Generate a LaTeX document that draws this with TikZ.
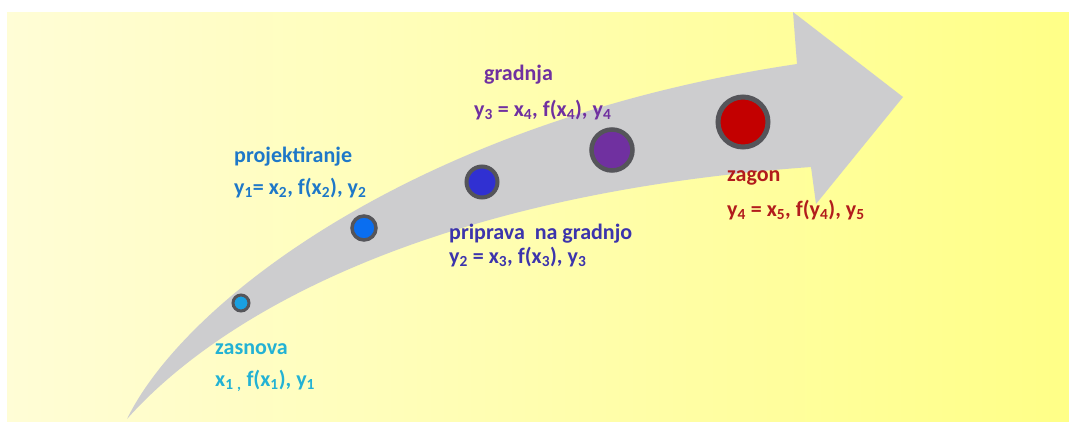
\documentclass[tikz,border=0pt]{standalone}
\usepackage{fontspec}
\setmainfont{Carlito}
\definecolor{bgL}{RGB}{255,253,214}
\definecolor{bgR}{RGB}{255,255,135}
\definecolor{arrowgray}{RGB}{205,205,207}
\definecolor{ringgray}{RGB}{85,85,90}
\definecolor{cZas}{RGB}{35,178,212}
\definecolor{fZas}{RGB}{25,160,225}
\definecolor{cPro}{RGB}{30,120,200}
\definecolor{fPro}{RGB}{10,110,240}
\definecolor{cPri}{RGB}{60,52,172}
\definecolor{fPri}{RGB}{48,48,210}
\definecolor{cGra}{RGB}{112,48,160}
\definecolor{cZag}{RGB}{178,28,28}
\definecolor{fZag}{RGB}{195,0,0}
\tikzset{
  dotnode/.style={circle, draw=ringgray, inner sep=0pt},
  lbl/.style={anchor=base west, inner sep=0pt, font=\fontsize{22}{25}\selectfont\bfseries}
}
\newcommand{\sbs}[1]{\textsubscript{#1}}
\begin{document}
\begin{tikzpicture}[x=1pt,y=-1pt]
\useasboundingbox (0,0) rectangle (1069,421);
\fill[white] (0,0) rectangle (1069,421);
\shade[left color=bgL, right color=bgR] (7,12) rectangle (1069,421);
% arrow
\fill[arrowgray] (127,419) .. controls (185,300) and (420,120) .. (797,64)
  -- (793,12) -- (903,97) -- (816,204) -- (811,167)
  .. controls (420,195) and (215,320) .. (127,419) -- cycle;
% dots
\node[dotnode, fill=fZas, minimum size=16pt, line width=3pt] (d1) at (241,303) {};
\node[dotnode, fill=fPro, minimum size=24pt, line width=3.5pt] (d2) at (364,228) {};
\node[dotnode, fill=fPri, minimum size=31pt, line width=4pt] (d3) at (482,182) {};
\node[dotnode, fill=cGra, minimum size=41pt, line width=4.5pt] (d4) at (612,150) {};
\node[dotnode, fill=fZag, minimum size=50pt, line width=5pt] (d5) at (743,122) {};
% labels
\node[lbl, text=cZas] (t1a) at (215,354) {zasnova};
\node[lbl, text=cZas] (t1b) at (215,386) {x\sbs{1}\sbs{ ,} f(x\sbs{1}), y\sbs{1}};
\node[lbl, text=cPro] (t2a) at (234,162) {projektiranje};
\node[lbl, text=cPro] (t2b) at (234,194) {y\sbs{1}= x\sbs{2}, f(x\sbs{2}), y\sbs{2}};
\node[lbl, text=cPri] (t3a) at (449,239) {priprava\ \ na gradnjo};
\node[lbl, text=cPri] (t3b) at (449,263) {y\sbs{2} = x\sbs{3}, f(x\sbs{3}), y\sbs{3}};
\node[lbl, text=cGra] (t4a) at (484,80) {gradnja};
\node[lbl, text=cGra] (t4b) at (474,116) {y\sbs{3} = x\sbs{4}, f(x\sbs{4}), y\sbs{4}};
\node[lbl, text=cZag] (t5a) at (727,181) {zagon};
\node[lbl, text=cZag] (t5b) at (727,216) {y\sbs{4} = x\sbs{5}, f(y\sbs{4}), y\sbs{5}};
\end{tikzpicture}
\end{document}
